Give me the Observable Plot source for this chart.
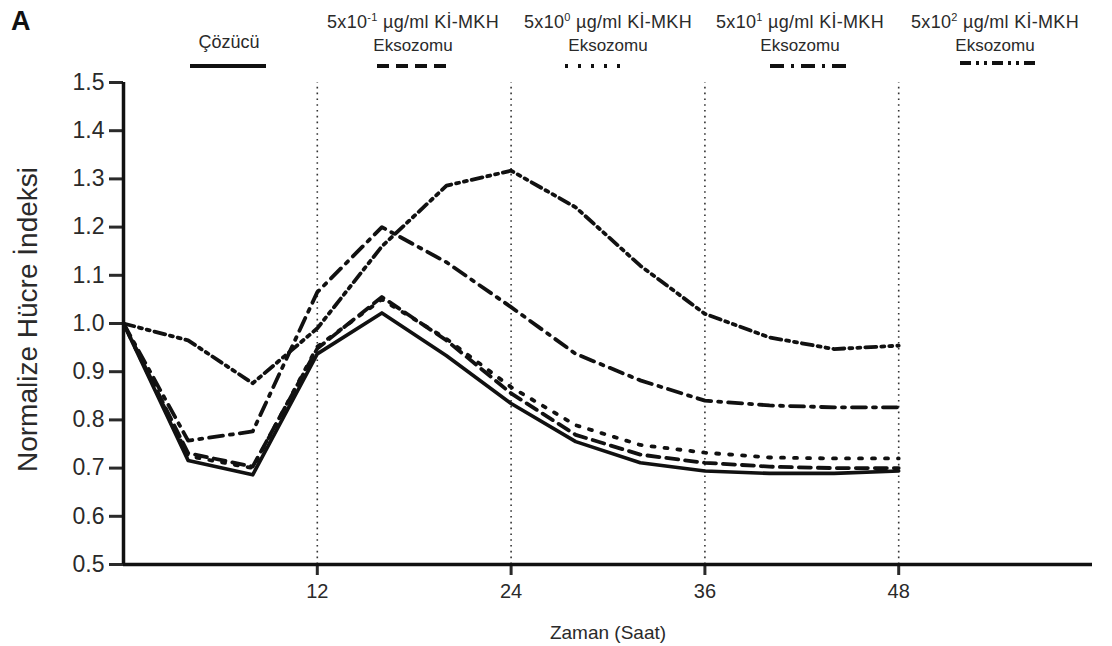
<!DOCTYPE html>
<html><head><meta charset="utf-8">
<script src="https://cdn.jsdelivr.net/npm/d3@7"></script>
<script src="https://cdn.jsdelivr.net/npm/@observablehq/plot@0.6"></script>
<style>
body{margin:0;background:#fff;font-family:"Liberation Sans",Arial,sans-serif;}
#wrap{position:relative;width:1112px;height:646px;overflow:hidden;}
#legend{position:absolute;left:0;top:0;}
#chart{position:absolute;left:0;top:70px;}
</style></head>
<body><div id="wrap"><div id="legend"></div><div id="chart"></div></div>
<script>
// ---- data ----
const hours = [0, 4, 8, 12, 16, 20, 24, 28, 32, 36, 40, 44, 48];
const cozucu = [1.000, 0.716, 0.686, 0.937, 1.022, 0.933, 0.834, 0.755, 0.711, 0.694, 0.689, 0.689, 0.694];
const doseM1 = [1.000, 0.731, 0.703, 0.948, 1.055, 0.965, 0.855, 0.769, 0.728, 0.711, 0.703, 0.700, 0.700];
const dose0  = [1.000, 0.725, 0.700, 0.952, 1.050, 0.968, 0.868, 0.789, 0.748, 0.732, 0.722, 0.720, 0.720];
const dose1  = [1.000, 0.757, 0.776, 1.065, 1.200, 1.127, 1.034, 0.937, 0.882, 0.840, 0.830, 0.826, 0.826];
const dose2  = [1.000, 0.965, 0.876, 0.990, 1.160, 1.286, 1.317, 1.241, 1.120, 1.020, 0.971, 0.947, 0.954];
const seriesKeys = ["Çözücü", "5x10^-1", "5x10^0", "5x10^1", "5x10^2"];
const seriesValues = [cozucu, doseM1, dose0, dose1, dose2];
const exponents = [null, "-1", "0", "1", "2"];
const refHours = [12, 24, 36, 48];
const xTicks = [12, 24, 36, 48];
const yTicks = [0.5, 0.6, 0.7, 0.8, 0.9, 1.0, 1.1, 1.2, 1.3, 1.4, 1.5];

// ---- styles ----
const dashes = ["none", "12,7", "3,10", "14,7,3,7", "11,5,3,5,3,5"];
const ink = "#111";
const textColor = "#2a2a2a";

const rows = seriesKeys.flatMap((k, si) => hours.map((h, i) => ({series: k, hour: h, value: seriesValues[si][i]})));

const chart = Plot.plot({
  width: 1112, height: 576,
  marginTop: 12, marginBottom: 82, marginLeft: 123, marginRight: 20,
  x: {domain: [0, 60], label: null},
  y: {domain: [0.5, 1.5], label: null},
  style: {fontFamily: "Liberation Sans, Arial, sans-serif", color: textColor, background: "#fff"},
  marks: [
    Plot.ruleX(refHours, {y1: 0.5, y2: 1.5, stroke: "#333", strokeWidth: 1.6, strokeDasharray: "1.6,4.2"}),
    ...seriesKeys.map((k, si) => Plot.line(rows.filter(r => r.series === k), {
      x: "hour", y: "value", stroke: ink, strokeWidth: si === 0 ? 3.6 : 3.8,
      strokeDasharray: dashes[si], strokeLinejoin: "round"
    })),
    Plot.axisY(yTicks, {tickFormat: d => d.toFixed(1), tickSize: 14, tickPadding: 5, strokeWidth: 3, fontSize: 23, label: null, fill: textColor}),
    Plot.axisX(xTicks, {tickSize: 11, strokeWidth: 3, tickPadding: 8, fontSize: 20, label: null, fill: textColor}),
    Plot.ruleX([0], {y1: 0.5, y2: 1.5, stroke: ink, strokeWidth: 3.5}),
    Plot.ruleY([0.5], {x1: 0, x2: 60, stroke: ink, strokeWidth: 3.5}),
    Plot.text(["Normalize Hücre İndeksi"], {frameAnchor: "left", dx: -95, dy: -4, rotate: -90, fontSize: 28, fill: textColor, textAnchor: "middle", lineAnchor: "middle"}),
    Plot.text(["Zaman (Saat)"], {frameAnchor: "bottom", dy: 68, fontSize: 19, fill: textColor, lineAnchor: "middle"})
  ]
});
document.getElementById("chart").appendChild(chart);

// ---- legend (above the plot) ----
const legCenters = [229, 413, 608, 800, 995];
const legLines = [[190, 266], [377, 450], [565, 630], [770, 850], [960, 1035]];
const svg = d3.select("#legend").append("svg").attr("width", 1112).attr("height", 70)
  .style("font-family", "Liberation Sans, Arial, sans-serif");
svg.append("text").attr("x", 11).attr("y", 30).attr("font-size", 27).attr("font-weight", "bold").attr("fill", "#111").text("A");
seriesKeys.forEach((k, i) => {
  const g = svg.append("g").attr("fill", textColor).attr("font-size", 17).attr("text-anchor", "middle");
  if (exponents[i] === null) {
    g.append("text").attr("x", legCenters[i]).attr("y", 48).attr("font-size", 18).text(k);
  } else {
    const t = g.append("text").attr("x", legCenters[i]).attr("y", 28).attr("font-size", 18).attr("letter-spacing", 0.3);
    t.append("tspan").text("5x10");
    t.append("tspan").attr("dy", -7).attr("font-size", 11).text(exponents[i]);
    t.append("tspan").attr("dy", 7).text(" µg/ml Kİ-MKH");
    g.append("text").attr("x", legCenters[i]).attr("y", 51).text("Eksozomu");
  }
  svg.append("line").attr("x1", legLines[i][0]).attr("x2", legLines[i][1])
    .attr("y1", i === 4 ? 63 : 66).attr("y2", i === 4 ? 63 : 66)
    .attr("stroke", ink).attr("stroke-width", 4).attr("stroke-dasharray", dashes[i]);
});
</script></body></html>
